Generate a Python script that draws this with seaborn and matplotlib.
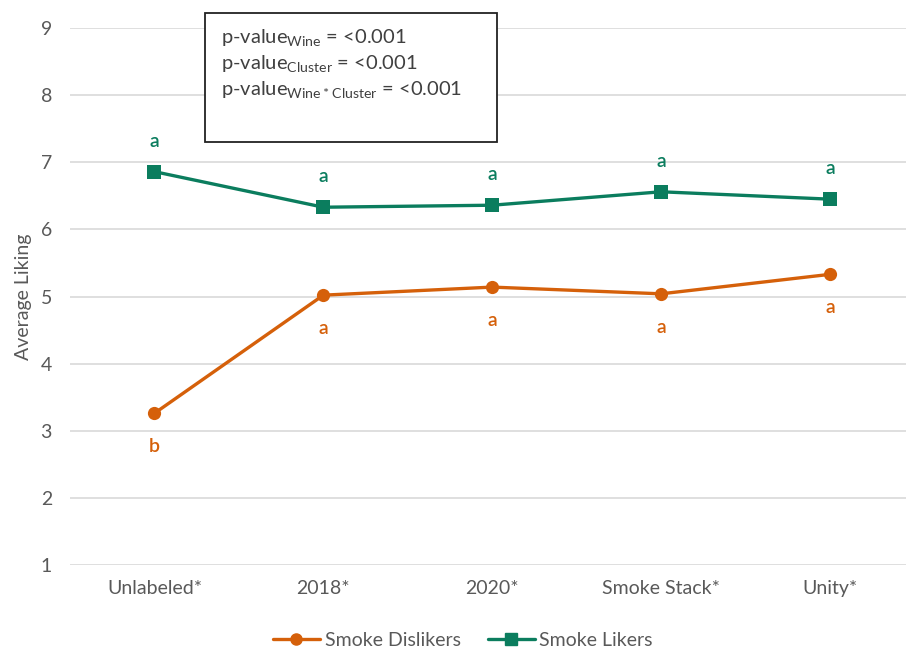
import matplotlib
matplotlib.use("Agg")
import matplotlib.pyplot as plt
import seaborn as sns
import pandas as pd
from matplotlib.patches import Rectangle

# Wine samples and mean liking scores per consumer cluster
wines = ["Unlabeled*", "2018*", "2020*", "Smoke Stack*", "Unity*"]
dislikers = [3.26, 5.02, 5.14, 5.04, 5.33]
likers = [6.86, 6.33, 6.36, 6.56, 6.45]
dislikers_letters = ["b", "a", "a", "a", "a"]
likers_letters = ["a", "a", "a", "a", "a"]
series_names = ["Smoke Dislikers", "Smoke Likers"]
y_ticks = [1, 2, 3, 4, 5, 6, 7, 8, 9]

ORANGE = "#D5600A"
GREEN = "#0B7D5E"
TEXT = "#595959"

sns.set_theme(style="white")
plt.rcParams["font.family"] = ["Lato", "DejaVu Sans"]

df = pd.DataFrame({
    "Wine": wines * 2,
    "Liking": dislikers + likers,
    "Cluster": [series_names[0]] * len(wines) + [series_names[1]] * len(wines),
})

fig = plt.figure(figsize=(9.06, 6.5), dpi=100)
ax = fig.add_axes([70 / 906, 1 - 565 / 650, 1 - 70 / 906, (565 - 28) / 650])

sns.lineplot(
    data=df, x="Wine", y="Liking", hue="Cluster", style="Cluster",
    markers={series_names[0]: "o", series_names[1]: "s"}, dashes=False,
    palette={series_names[0]: ORANGE, series_names[1]: GREEN},
    linewidth=2.4, markersize=9.5, markeredgewidth=0, ax=ax, legend=False,
)

ax.set_ylim(1, 9)
ax.set_xlim(-0.5, 4.45)
ax.set_yticks(y_ticks)
ax.yaxis.grid(True, color="#d9d9d9", linewidth=1.2)
ax.set_axisbelow(True)
for s in ax.spines.values():
    s.set_visible(False)
ax.tick_params(axis="both", length=0, labelsize=14, colors=TEXT)
ax.tick_params(axis="y", pad=13)
ax.tick_params(axis="x", pad=11)
ax.set_xlabel("")
ax.set_ylabel("Average Liking", fontsize=14, color=TEXT, labelpad=6)

# significance letters
for i, (v, t) in enumerate(zip(likers, likers_letters)):
    ax.annotate(t, (i, v), xytext=(0, 22), textcoords="offset points",
                ha="center", va="center", fontsize=14, color=GREEN,
                fontweight="semibold")
for i, (v, t) in enumerate(zip(dislikers, dislikers_letters)):
    ax.annotate(t, (i, v), xytext=(0, -24), textcoords="offset points",
                ha="center", va="center", fontsize=14, color=ORANGE,
                fontweight="semibold")

# p-value box
box = Rectangle((205 / 906, 1 - 142 / 650), (497 - 205) / 906, (142 - 13) / 650,
                transform=fig.transFigure, facecolor="white", edgecolor="#222222",
                linewidth=1.3, zorder=5)
fig.patches.append(box)
lines = [
    r"p-value$_{\mathregular{Wine}}$ = <0.001",
    r"p-value$_{\mathregular{Cluster}}$ = <0.001",
    r"p-value$_{\mathregular{Wine*Cluster}}$ = <0.001",
]
for k, s in enumerate(lines):
    fig.text(221 / 906, 1 - (38 + 26 * k) / 650, s, fontsize=14.5, color="#404040",
             ha="left", va="center", zorder=6)

# legend
handles = [
    plt.Line2D([], [], color=ORANGE, marker="o", linewidth=2.4, markersize=8),
    plt.Line2D([], [], color=GREEN, marker="s", linewidth=2.4, markersize=8),
]
fig.legend(handles, series_names, loc="center", bbox_to_anchor=(463 / 906, 1 - 640 / 650),
           ncol=2, frameon=False, fontsize=14, labelcolor=TEXT, handlelength=2.4,
           columnspacing=1.4, handletextpad=0.25)

fig.savefig("out.png", dpi=100)
